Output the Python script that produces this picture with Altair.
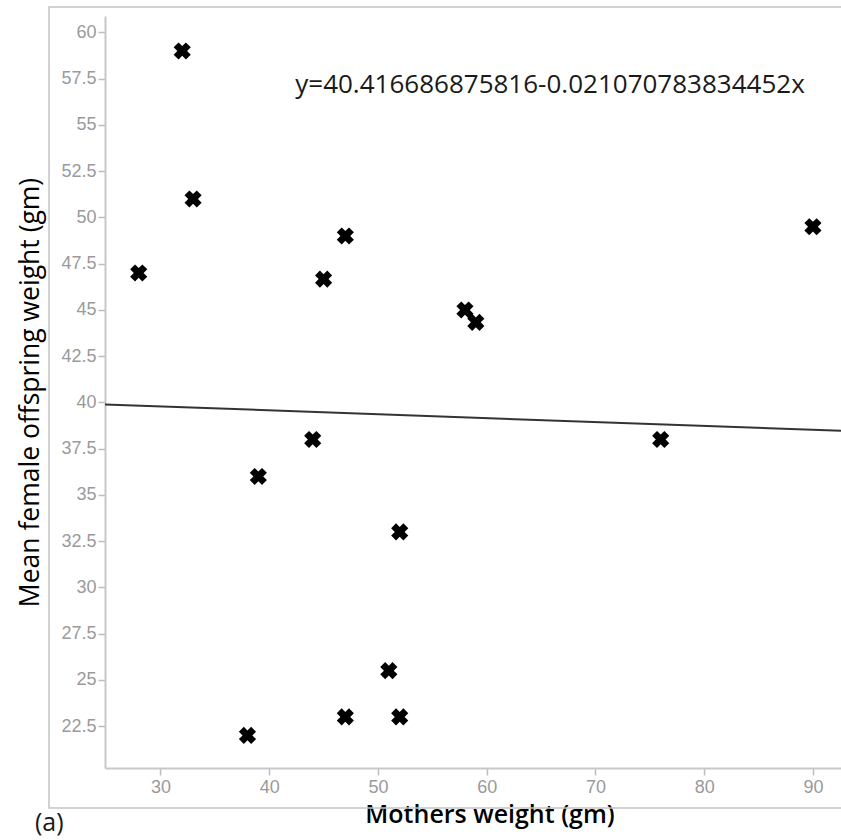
import altair as alt
import pandas as pd

# Data
mother_weight = [32, 33, 28, 47, 45, 58, 59, 90, 44, 39, 76, 52, 38, 47, 52, 51]
offspring_weight = [59, 51, 47, 49, 46.67, 45, 44.33, 49.5, 38, 36, 38, 33, 22, 23, 23, 25.5]

intercept = 40.416686875816
slope = -0.021070783834452
equation_label = "y=40.416686875816-0.021070783834452x"
panel_label = "(a)"

x_domain = [24.9, 92.58]
y_domain = [20.24, 60.89]
x_ticks = [30, 40, 50, 60, 70, 80, 90]
y_ticks = [22.5, 25, 27.5, 30, 32.5, 35, 37.5, 40, 42.5, 45, 47.5, 50, 52.5, 55, 57.5, 60]

df = pd.DataFrame({"x": mother_weight, "y": offspring_weight})
line_df = pd.DataFrame({"x": x_domain, "y": [intercept + slope * v for v in x_domain]})

W, H = 736, 752

xenc = alt.X(
    "x:Q",
    scale=alt.Scale(domain=x_domain, nice=False, zero=False),
    axis=alt.Axis(
        values=x_ticks,
        format="d",
        title="Mothers weight (gm)",
        titleX=384.5,
        titleY=54,
        titleBaseline="alphabetic",
        titleAlign="center",
        titleFont="Open Sans",
        titleFontSize=25,
        titleFontWeight=600,
        titleColor="#000000",
        labelPadding=3,
        tickSize=7,
        grid=False,
    ),
)
yenc = alt.Y(
    "y:Q",
    scale=alt.Scale(domain=y_domain, nice=False, zero=False),
    axis=alt.Axis(
        values=y_ticks,
        format=".1~f",
        title="Mean female offspring weight (gm)",
        titleX=-67,
        titleBaseline="alphabetic",
        titleFont="Open Sans",
        titleFontSize=26.5,
        titleFontWeight=500,
        titleColor="#000000",
        labelPadding=2,
        tickSize=7,
        grid=False,
    ),
)

frame = alt.Chart(alt.Data(values=[{}])).mark_rect(
    fillOpacity=0, stroke="#c4c4c4", strokeWidth=1.5
).encode(
    x=alt.value(-56), x2=alt.value(900), y=alt.value(-9), y2=alt.value(792)
)

points = alt.Chart(df).mark_point(
    shape="cross", angle=45, filled=True, color="#000000", size=300, opacity=1
).encode(x=xenc, y=yenc)

reg = alt.Chart(line_df).mark_line(color="#333333", strokeWidth=2).encode(x="x:Q", y="y:Q")

eq = alt.Chart(alt.Data(values=[{"t": equation_label}])).mark_text(
    font="Open Sans", fontSize=26, color="#1a1a1a", align="center", baseline="alphabetic"
).encode(text="t:N", x=alt.value(445), y=alt.value(77))

lab = alt.Chart(alt.Data(values=[{"t": panel_label}])).mark_text(
    font="Open Sans", fontSize=25, color="#1a1a1a", align="left", baseline="alphabetic"
).encode(text="t:N", x=alt.value(-70), y=alt.value(815))

chart = alt.layer(frame, reg, points, eq, lab).properties(
    width=W, height=H,
    background="white",
    autosize=alt.AutoSizeParams(type="none"),
    padding={"left": 105, "top": 16, "right": 0, "bottom": 72},
).configure_view(stroke=None).configure_axis(
    grid=False,
    domainColor="#c8c8c8",
    domainWidth=2,
    tickColor="#bdbdbd",
    tickWidth=1.5,
    labelColor="#9a9a9a",
    labelFont="Liberation Sans",
    labelFontSize=18,
)

chart.save("out.html", embed_options={"renderer": "svg", "actions": False})
